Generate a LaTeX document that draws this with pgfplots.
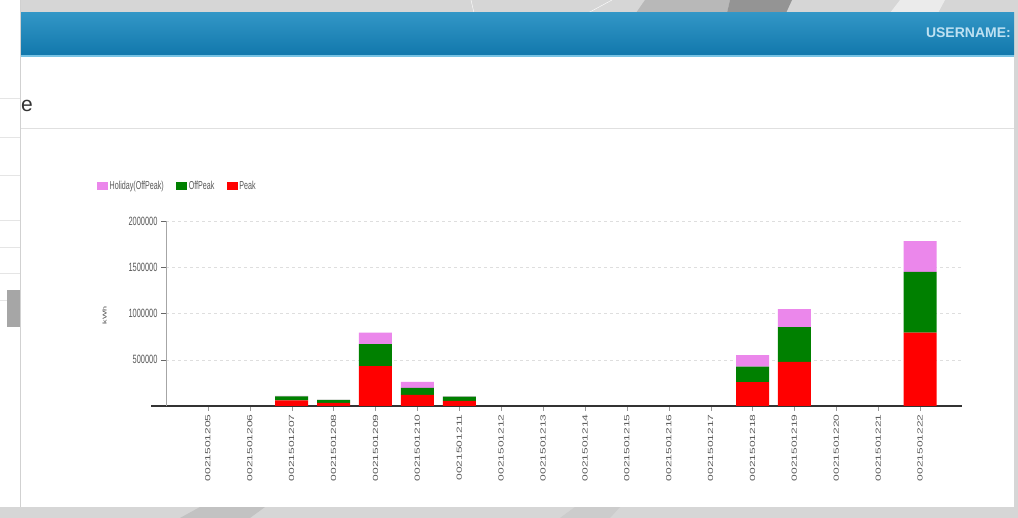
\documentclass[border=0pt]{standalone}
\usepackage{pgfplots}
\pgfplotsset{compat=1.18}
\usepackage{pgfplotstable}
\usepackage{graphicx}
\usepackage{fontspec}
\setmainfont{Liberation Sans}
\definecolor{hol}{RGB}{235,135,235}
\definecolor{off}{RGB}{0,128,0}
\definecolor{peak}{RGB}{255,0,0}
\definecolor{bgray}{RGB}{214,214,214}
\definecolor{htop}{RGB}{50,150,198}
\definecolor{hbot}{RGB}{18,120,172}
\definecolor{hline}{RGB}{120,195,228}
\definecolor{uname}{RGB}{190,225,242}
\newcommand\sx[1]{\scalebox{0.62}[1]{\textnormal{#1}}}
\newcommand\sy[1]{\scalebox{1}[0.62]{\textnormal{#1}}}
\pgfplotstableread{
x peak off hol
0 0 0 0
1 0 0 0
2 60000 45000 5000
3 35000 30000 2000
4 432000 238000 122000
5 119000 78000 65000
6 55000 45000 5000
7 0 0 0
8 0 0 0
9 0 0 0
10 0 0 0
11 0 0 0
12 0 0 0
13 259000 166000 126000
14 478000 375000 194000
15 0 0 0
16 0 0 0
17 792000 658000 332000
}\datatable
\begin{document}
\begin{tikzpicture}
\useasboundingbox (0,0) rectangle (1018pt,518pt);
% page background
\fill[bgray] (0,0) rectangle (1018pt,518pt);
\fill[black!28] (636pt,505pt) -- (645pt,518pt) -- (730pt,518pt) -- (727pt,505pt) -- cycle;
\fill[black!42] (727pt,505pt) -- (730pt,518pt) -- (792pt,518pt) -- (786pt,505pt) -- cycle;
\fill[black!8] (890pt,505pt) -- (900pt,518pt) -- (945pt,518pt) -- (938pt,505pt) -- cycle;
\draw[white] (471pt,518pt) -- (474pt,505pt);
\draw[white] (612pt,518pt) -- (588pt,505pt);
\fill[black!24] (180pt,0pt) -- (200pt,11pt) -- (265pt,11pt) -- (250pt,0pt) -- cycle;
\fill[black!20] (560pt,0pt) -- (575pt,11pt) -- (620pt,11pt) -- (610pt,0pt) -- cycle;
% left panel
\fill[white] (0pt,11pt) rectangle (20pt,518pt);
\foreach \yy in {420,381,343,298,271,245,218}{\draw[black!10] (0pt,\yy pt) -- (20pt,\yy pt);}
\fill[black!35] (7pt,191pt) rectangle (20pt,228pt);
\draw[black!18] (20.5pt,11pt) -- (20.5pt,518pt);
% header
\shade[top color=htop, bottom color=hbot] (21pt,463pt) rectangle (1014pt,505pt);
\fill[hline] (21pt,461pt) rectangle (1014pt,463pt);
\node[anchor=east, font=\bfseries\fontsize{14}{16}\selectfont, text=uname, inner sep=0pt] at (1011pt,485pt) {USERNAME:};
% content
\fill[white] (21pt,11pt) rectangle (1014pt,461pt);
\node[anchor=base west, font=\fontsize{21}{24}\selectfont, text=black!80, inner sep=0pt] at (21pt,406pt) {e};
\draw[black!12, line width=1pt] (21pt,389pt) -- (1014pt,389pt);
\begin{axis}[
  at={(166pt,112pt)}, anchor=south west,
  scale only axis, width=796pt, height=185pt,
  xmin=-1, xmax=18, ymin=0, ymax=2000000,
  scaled y ticks=false,
  ybar stacked, bar width=33pt,
  axis x line=bottom, axis y line=left, axis line style={-},
  x axis line style={black!80, line width=1.2pt, shorten <=-15pt},
  y axis line style={black!35, line width=0.8pt},
  xtick={0,...,17},
  xticklabels={\sy{0021501205},\sy{0021501206},\sy{0021501207},\sy{0021501208},\sy{0021501209},\sy{0021501210},\sy{0021501211},\sy{0021501212},\sy{0021501213},\sy{0021501214},\sy{0021501215},\sy{0021501216},\sy{0021501217},\sy{0021501218},\sy{0021501219},\sy{0021501220},\sy{0021501221},\sy{0021501222}},
  x tick label style={rotate=90, anchor=east, font=\fontsize{12}{14}\selectfont, text=black!65},
  ytick={500000,1000000,1500000,2000000},
  yticklabels={\sx{500000},\sx{1000000},\sx{1500000},\sx{2000000}},
  y tick label style={font=\fontsize{12}{14}\selectfont, text=black!65},
  tick align=outside, major tick length=5pt,
  ytick style={black!60}, xtick style={black!40},
  ymajorgrids, grid style={dashed, black!13},
  ylabel={\sy{kWh}},
  ylabel style={at={(axis description cs:-0.077,0.49)}, anchor=center, font=\fontsize{9}{10}\selectfont, text=black!70},
  reverse legend,
  legend columns=3,
  legend style={at={(axis description cs:-0.0867,1.189)}, anchor=west, draw=none, fill=none,
    font=\fontsize{11.5}{12}\selectfont, text=black!65, inner sep=0pt,
    nodes={inner sep=1.5pt},
    /tikz/every even column/.append style={column sep=11pt}},
  legend image code/.code={\fill[#1] (0pt,-4pt) rectangle (11pt,4pt);},
]
\addplot[fill=peak, draw=none] table[x=x, y=peak] {\datatable};
\addplot[fill=off, draw=none] table[x=x, y=off] {\datatable};
\addplot[fill=hol, draw=none] table[x=x, y=hol] {\datatable};
\legend{\sx{Peak},\sx{OffPeak},\sx{Holiday(OffPeak)}}
\end{axis}
\end{tikzpicture}
\end{document}
